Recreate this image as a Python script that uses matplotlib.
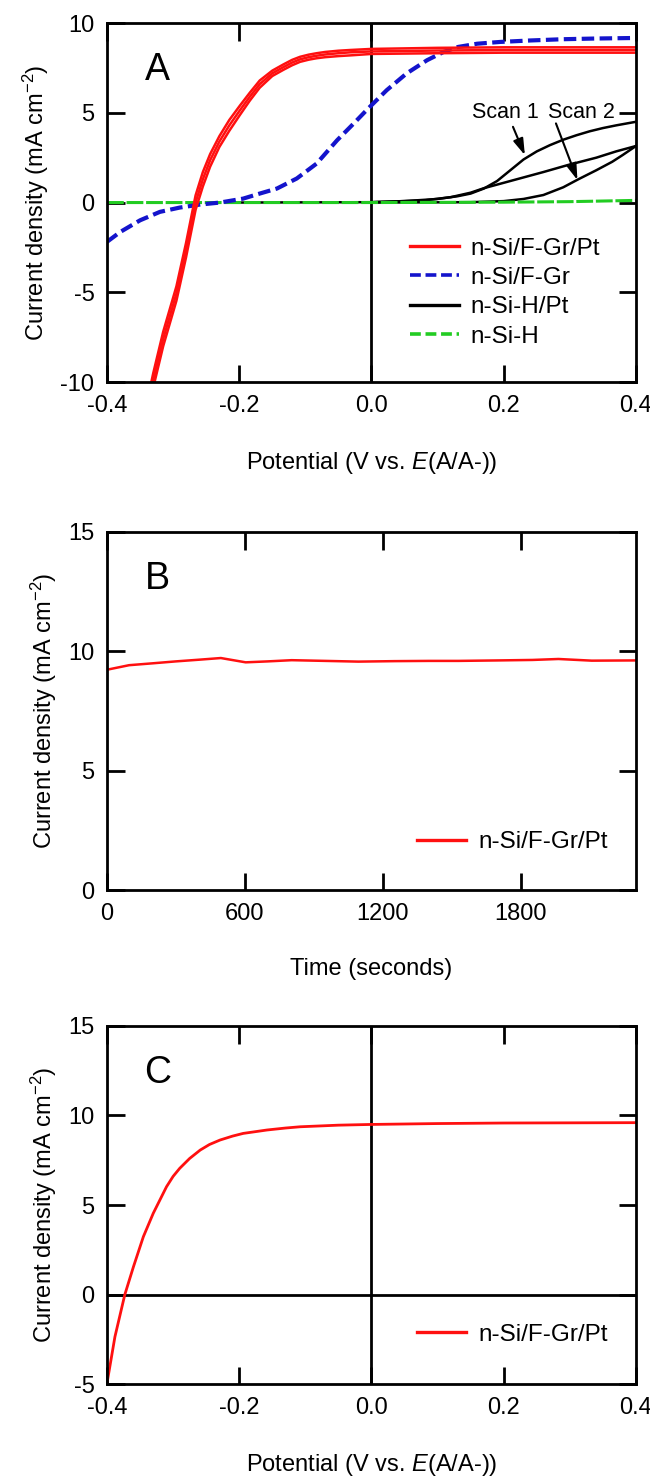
import numpy as np
import matplotlib
matplotlib.use("Agg")
import matplotlib.pyplot as plt

plt.rcParams['font.family'] = ['Liberation Sans', 'DejaVu Sans']
plt.rcParams['mathtext.fontset'] = 'custom'
plt.rcParams['mathtext.rm'] = 'Liberation Sans'
plt.rcParams['mathtext.it'] = 'Liberation Sans:italic'

# panel A : red n-Si/F-Gr/Pt (three scans)
red_x = [-0.340, -0.330, -0.315, -0.295, -0.2805, -0.266, -0.255, -0.244, -0.230, -0.215,
         -0.199, -0.184, -0.169, -0.150, -0.133, -0.120, -0.108, -0.095, -0.083, -0.070,
         -0.050, -0.032, 0.000, 0.100, 0.200, 0.300, 0.400]
red_y1 = [-11.6, -9.9, -7.6, -5.07, -2.66, 0.0, 1.3, 2.36, 3.4, 4.3, 5.14, 5.9, 6.6, 7.2,
          7.55, 7.8, 7.98, 8.1, 8.18, 8.25, 8.32, 8.37, 8.42, 8.47, 8.5, 8.5, 8.5]
red_y2 = [-11.2, -9.5, -7.2, -4.67, -2.26, 0.4, 1.7, 2.7, 3.7, 4.6, 5.4, 6.12, 6.8, 7.35,
          7.7, 7.95, 8.12, 8.24, 8.32, 8.39, 8.46, 8.5, 8.56, 8.62, 8.65, 8.65, 8.65]
red_y3 = [-12.0, -10.3, -8.0, -5.47, -3.06, -0.4, 0.9, 2.0, 3.1, 4.0, 4.88, 5.68, 6.4, 7.05,
          7.4, 7.65, 7.84, 7.96, 8.04, 8.1, 8.16, 8.2, 8.28, 8.32, 8.35, 8.35, 8.35]

# blue n-Si/F-Gr
blue_x = [-0.400, -0.380, -0.350, -0.320, -0.290, -0.259, -0.229, -0.194, -0.169, -0.143,
          -0.113, -0.083, -0.052, -0.027, -0.005, 0.023, 0.053, 0.084, 0.109, 0.131,
          0.160, 0.195, 0.240, 0.289, 0.340, 0.400]
blue_y = [-2.19, -1.64, -0.99, -0.52, -0.28, -0.11, 0.0, 0.22, 0.5, 0.78,
          1.34, 2.17, 3.47, 4.4, 5.24, 6.26, 7.19, 7.93, 8.39, 8.67,
          8.85, 8.95, 9.03, 9.1, 9.14, 9.17]

# black n-Si-H/Pt
blk1_x = [-0.20, 0.00, 0.05, 0.10, 0.13, 0.15, 0.17, 0.19, 0.21, 0.23, 0.25, 0.27,
          0.29, 0.31, 0.33, 0.35, 0.37, 0.40]
blk1_y = [0.0, 0.02, 0.08, 0.2, 0.35, 0.5, 0.78, 1.2, 1.8, 2.4, 2.85, 3.2,
          3.5, 3.75, 3.97, 4.15, 4.3, 4.5]
blk2_x = [0.40, 0.37, 0.34, 0.297, 0.26, 0.23, 0.20, 0.17, 0.15, 0.12, 0.08, 0.00]
blk2_y = [3.15, 2.85, 2.5, 2.09, 1.7, 1.4, 1.1, 0.8, 0.55, 0.3, 0.12, 0.02]
blk3_x = [0.00, 0.15, 0.20, 0.23, 0.26, 0.29, 0.3125, 0.34, 0.364, 0.38, 0.40]
blk3_y = [0.0, 0.02, 0.08, 0.2, 0.42, 0.85, 1.29, 1.8, 2.27, 2.65, 3.15]

# green n-Si-H
grn_x = [-0.40, 0.00, 0.20, 0.30, 0.40]
grn_y = [0.0, 0.0, 0.02, 0.05, 0.12]

# panel B : stability
t_s = [0, 96, 200, 300, 400, 495, 603, 700, 803, 950, 1093, 1250, 1400, 1528, 1700,
       1850, 1963, 2108, 2300]
j_t = [9.23, 9.42, 9.5, 9.58, 9.65, 9.72, 9.54, 9.58, 9.63, 9.6, 9.57, 9.59, 9.6, 9.6, 9.62,
       9.64, 9.68, 9.61, 9.62]

# panel C
c_x = [-0.400, -0.388, -0.373, -0.360, -0.345, -0.330, -0.310, -0.300, -0.290, -0.275,
       -0.259, -0.245, -0.229, -0.210, -0.194, -0.175, -0.158, -0.130, -0.108, -0.050,
       -0.001, 0.100, 0.200, 0.300, 0.400]
c_y = [-4.96, -2.36, 0.0, 1.55, 3.23, 4.54, 6.02, 6.6, 7.05, 7.6,
       8.07, 8.38, 8.63, 8.85, 9.0, 9.1, 9.19, 9.3, 9.37, 9.46,
       9.5, 9.55, 9.58, 9.59, 9.6]

RED = '#ff1010'
BLUE = '#1414cc'
GREEN = '#22cc22'

fig = plt.figure(figsize=(6.5, 14.79), dpi=100)
axA = fig.add_axes([0.1646, 0.7417, 0.8138, 0.2427])
axB = fig.add_axes([0.1646, 0.3982, 0.8138, 0.2421])
axC = fig.add_axes([0.1646, 0.0642, 0.8138, 0.2421])

ylab = 'Current density (mA cm$^{-2}$)'
xlab = 'Potential (V vs. $\\mathit{E}$(A/A-))'
FS = 17


def style(ax):
    for s in ax.spines.values():
        s.set_linewidth(2.0)
    ax.tick_params(direction='in', length=12.6, width=2.0, top=True, right=True,
                   labelsize=FS, pad=9)
    ax.set_ylabel(ylab, fontsize=FS, labelpad=7)


leg_kw = dict(frameon=False, fontsize=17.5, borderpad=0, borderaxespad=0,
              handlelength=2.0, handletextpad=0.5, labelspacing=0.3)

# A
axA.axvline(0, color='black', lw=2.0)
axA.plot(blk1_x, blk1_y, color='black', lw=1.8)
axA.plot(blk2_x, blk2_y, color='black', lw=1.8)
axA.plot(blk3_x, blk3_y, color='black', lw=1.8)
axA.plot(grn_x, grn_y, color=GREEN, lw=2.2, dashes=(5.5, 0.9))
axA.plot(blue_x, blue_y, color=BLUE, lw=3.0, dashes=(3, 1.3))
axA.plot(red_x, red_y1, color=RED, lw=1.8)
axA.plot(red_x, red_y2, color=RED, lw=1.8)
axA.plot(red_x, red_y3, color=RED, lw=1.8)
axA.set_xlim(-0.4, 0.4)
axA.set_ylim(-10, 10)
axA.set_xticks([-0.4, -0.2, 0.0, 0.2, 0.4])
axA.set_xticklabels(['-0.4', '-0.2', '0.0', '0.2', '0.4'])
axA.set_yticks([-10, -5, 0, 5, 10])
axA.set_yticklabels(['-10', '-5', '0', '5', '10'])
style(axA)
axA.set_xlabel(xlab, fontsize=FS, labelpad=24)
axA.text(0.096, 0.868, 'A', transform=axA.transAxes, fontsize=27, ha='center', va='center')
axA.text(0.202, 5.0, 'Scan 1', fontsize=15.5, ha='center', va='center')
axA.text(0.317, 5.0, 'Scan 2', fontsize=15.5, ha='center', va='center')
arrow = dict(arrowstyle='-|>,head_length=0.7,head_width=0.22', color='black', lw=1.5,
             mutation_scale=14, shrinkA=0, shrinkB=0)
axA.annotate('', xy=(0.232, 2.64), xytext=(0.214, 4.22), arrowprops=arrow)
axA.annotate('', xy=(0.3115, 1.25), xytext=(0.279, 4.41), arrowprops=arrow)
hA = [plt.Line2D([], [], color=RED, lw=2.4),
      plt.Line2D([], [], color=BLUE, lw=2.6, dashes=(3, 1.3)),
      plt.Line2D([], [], color='black', lw=2.4),
      plt.Line2D([], [], color=GREEN, lw=2.6, dashes=(3, 1.3))]
axA.legend(hA, ['n-Si/F-Gr/Pt', 'n-Si/F-Gr', 'n-Si-H/Pt', 'n-Si-H'], loc='center left',
           bbox_to_anchor=(0.573, 0.249), **leg_kw)

# B
axB.plot(t_s, j_t, color=RED, lw=1.8)
axB.set_xlim(0, 2300)
axB.set_ylim(0, 15)
axB.set_xticks([0, 600, 1200, 1800])
axB.set_yticks([0, 5, 10, 15])
style(axB)
axB.set_xlabel('Time (seconds)', fontsize=FS, labelpad=24)
axB.text(0.096, 0.868, 'B', transform=axB.transAxes, fontsize=27, ha='center', va='center')
hB = [plt.Line2D([], [], color=RED, lw=2.4)]
axB.legend(hB, ['n-Si/F-Gr/Pt'], loc='center left', bbox_to_anchor=(0.587, 0.134), **leg_kw)

# C
axC.axvline(0, color='black', lw=2.0)
axC.axhline(0, color='black', lw=2.0)
axC.plot(c_x, c_y, color=RED, lw=2.0)
axC.set_xlim(-0.4, 0.4)
axC.set_ylim(-5, 15)
axC.set_xticks([-0.4, -0.2, 0.0, 0.2, 0.4])
axC.set_xticklabels(['-0.4', '-0.2', '0.0', '0.2', '0.4'])
axC.set_yticks([-5, 0, 5, 10, 15])
axC.set_yticklabels(['-5', '0', '5', '10', '15'])
style(axC)
axC.set_xlabel(xlab, fontsize=FS, labelpad=24)
axC.text(0.096, 0.868, 'C', transform=axC.transAxes, fontsize=27, ha='center', va='center')
axC.legend(hB, ['n-Si/F-Gr/Pt'], loc='center left', bbox_to_anchor=(0.587, 0.137), **leg_kw)

fig.savefig('out.png', dpi=100)
